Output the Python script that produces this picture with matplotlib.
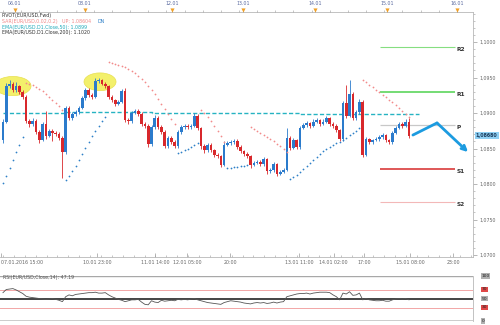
import numpy as np
import matplotlib
matplotlib.use('Agg')
import matplotlib.pyplot as plt
from matplotlib.patches import Ellipse
from matplotlib.ticker import MultipleLocator

# hourly EUR/USD candles (open of each bar = previous close)
first_open = 1.0862
closes = [1.0888, 1.0938, 1.0941, 1.0932, 1.0938, 1.0930, 1.0923, 1.0889, 1.0885, 1.0889,
          1.0873, 1.0862, 1.0885, 1.0868, 1.0875, 1.0872, 1.0870, 1.0865, 1.0845, 1.0907,
          1.0893, 1.0899, 1.0901, 1.0907, 1.0921, 1.0932, 1.0925, 1.0923, 1.0945, 1.0946,
          1.0941, 1.0938, 1.0923, 1.0918, 1.0913, 1.0916, 1.0931, 1.0890, 1.0889, 1.0900,
          1.0903, 1.0899, 1.0885, 1.0882, 1.0856, 1.0880, 1.0893, 1.0880, 1.0873, 1.0854,
          1.0865, 1.0859, 1.0854, 1.0873, 1.0880, 1.0882, 1.0880, 1.0882, 1.0896, 1.0879,
          1.0854, 1.0848, 1.0855, 1.0848, 1.0841, 1.0839, 1.0827, 1.0855, 1.0858, 1.0859,
          1.0861, 1.0852, 1.0846, 1.0842, 1.0839, 1.0827, 1.0830, 1.0831, 1.0828, 1.0835,
          1.0818, 1.0820, 1.0828, 1.0814, 1.0817, 1.0820, 1.0865, 1.0851, 1.0862, 1.0852,
          1.0879, 1.0883, 1.0886, 1.0882, 1.0888, 1.0890, 1.0885, 1.0888, 1.0893, 1.0885,
          1.0882, 1.0876, 1.0863, 1.0914, 1.0896, 1.0927, 1.0893, 1.0901, 1.0916, 1.0841,
          1.0863, 1.0859, 1.0862, 1.0863, 1.0866, 1.0869, 1.0862, 1.0859, 1.0872, 1.0879,
          1.0885, 1.0882, 1.0888, 1.0868]
highs = [1.0891, 1.0942, 1.0946, 1.0944, 1.0943, 1.0940, 1.0932, 1.0926, 1.0892, 1.0893,
         1.0891, 1.0876, 1.0888, 1.0903, 1.0878, 1.0877, 1.0875, 1.0873, 1.0867, 1.0910,
         1.0910, 1.0902, 1.0904, 1.0910, 1.0924, 1.0935, 1.0935, 1.0928, 1.0949, 1.0949,
         1.0948, 1.0944, 1.0940, 1.0926, 1.0920, 1.0919, 1.0934, 1.0935, 1.0893, 1.0903,
         1.0906, 1.0905, 1.0902, 1.0888, 1.0884, 1.0883, 1.0897, 1.0896, 1.0883, 1.0876,
         1.0868, 1.0867, 1.0862, 1.0876, 1.0883, 1.0885, 1.0884, 1.0885, 1.0900, 1.0899,
         1.0881, 1.0857, 1.0858, 1.0858, 1.0850, 1.0844, 1.0841, 1.0860, 1.0861, 1.0862,
         1.0864, 1.0863, 1.0855, 1.0848, 1.0845, 1.0841, 1.0833, 1.0834, 1.0834, 1.0838,
         1.0837, 1.0823, 1.0831, 1.0830, 1.0820, 1.0823, 1.0879, 1.0868, 1.0865, 1.0864,
         1.0882, 1.0886, 1.0889, 1.0888, 1.0891, 1.0893, 1.0892, 1.0891, 1.0896, 1.0895,
         1.0887, 1.0884, 1.0878, 1.0917, 1.0939, 1.0946, 1.0930, 1.0904, 1.0920, 1.0919,
         1.0866, 1.0865, 1.0864, 1.0866, 1.0869, 1.0872, 1.0871, 1.0864, 1.0875, 1.0882,
         1.0888, 1.0888, 1.0891, 1.0893]
lows = [1.0858, 1.0886, 1.0935, 1.0929, 1.0930, 1.0927, 1.0920, 1.0886, 1.0881, 1.0882,
        1.0870, 1.0858, 1.0860, 1.0864, 1.0866, 1.0860, 1.0867, 1.0862, 1.0808, 1.0842,
        1.0890, 1.0890, 1.0896, 1.0898, 1.0905, 1.0919, 1.0922, 1.0920, 1.0921, 1.0942,
        1.0939, 1.0935, 1.0920, 1.0915, 1.0910, 1.0911, 1.0914, 1.0887, 1.0885, 1.0886,
        1.0898, 1.0896, 1.0882, 1.0879, 1.0852, 1.0853, 1.0878, 1.0877, 1.0870, 1.0851,
        1.0851, 1.0856, 1.0851, 1.0851, 1.0871, 1.0878, 1.0877, 1.0878, 1.0880, 1.0876,
        1.0849, 1.0844, 1.0845, 1.0845, 1.0838, 1.0836, 1.0824, 1.0825, 1.0853, 1.0855,
        1.0857, 1.0849, 1.0843, 1.0839, 1.0836, 1.0823, 1.0825, 1.0828, 1.0825, 1.0826,
        1.0814, 1.0815, 1.0817, 1.0811, 1.0812, 1.0815, 1.0818, 1.0848, 1.0849, 1.0849,
        1.0850, 1.0877, 1.0881, 1.0879, 1.0880, 1.0886, 1.0882, 1.0883, 1.0886, 1.0882,
        1.0879, 1.0873, 1.0860, 1.0861, 1.0893, 1.0894, 1.0890, 1.0890, 1.0899, 1.0838,
        1.0839, 1.0856, 1.0857, 1.0860, 1.0861, 1.0864, 1.0859, 1.0856, 1.0857, 1.0870,
        1.0877, 1.0879, 1.0880, 1.0865]

# parabolic SAR, one value per bar; trend flips at these bars (first run is up)
sar = [1.0801, 1.0811, 1.0823, 1.0834, 1.0845, 1.0855, 1.0866,
       1.0942, 1.0941, 1.0939, 1.0937, 1.0934, 1.0931, 1.0927, 1.0923, 1.0918, 1.0914, 1.0910, 1.0904,
       1.0806, 1.0811, 1.0818, 1.0825, 1.0834, 1.0842, 1.0851, 1.0859, 1.0868, 1.0875, 1.0882, 1.0889, 1.0894,
       1.0972, 1.0970, 1.0969, 1.0968, 1.0966, 1.0965, 1.0962, 1.0959, 1.0956, 1.0952, 1.0948,
       1.0944, 1.0938, 1.0932, 1.0927, 1.0920, 1.0913, 1.0906, 1.0899, 1.0892, 1.0885,
       1.0844, 1.0845, 1.0848, 1.0849, 1.0852, 1.0855, 1.0858,
       1.0904, 1.0900, 1.0894, 1.0889, 1.0882, 1.0875, 1.0868, 1.0859,
       1.0823, 1.0823, 1.0824, 1.0824, 1.0825, 1.0825, 1.0827,
       1.0880, 1.0877, 1.0875, 1.0872, 1.0869, 1.0866, 1.0863, 1.0861, 1.0856, 1.0854, 1.0849, 1.0845,
       1.0807, 1.0810, 1.0813, 1.0817, 1.0821, 1.0825, 1.0830, 1.0834, 1.0838, 1.0842, 1.0846,
       1.0849, 1.0852, 1.0855, 1.0858, 1.0859, 1.0862, 1.0865, 1.0869, 1.0872, 1.0875, 1.0879,
       1.0946, 1.0944, 1.0939, 1.0937, 1.0932, 1.0930, 1.0925, 1.0923, 1.0918, 1.0916,
       1.0911, 1.0907, 1.0903, 1.0899, 1.0894]
sar_turns = [0, 7, 19, 32, 53, 60, 68, 75, 87, 109]

# daily EMA(50), stepping once a day
ema_bars = [0, 19, 45, 66, 90, 113, 126]
ema_vals = [1.0900, 1.0901, 1.0900, 1.0900, 1.0899, 1.0898, 1.0898]

# forward pivot levels
pivot_names = ['R2', 'R1', 'P', 'S1', 'S2']
pivot_vals = [1.0993, 1.0930, 1.0883, 1.0821, 1.0775]
pivot_colors = ['#86de80', '#5cd65c', '#c8c8c8', '#d62a2a', '#f3b8b8']
pivot_lw = [0.8, 1.2, 0.9, 1.1, 0.8]

# forecast arrow (bar index, price)
arrow_x = [124.2, 131.5, 140.9]
arrow_y = [1.0869, 1.0886, 1.0845]

# yellow highlighted tops: (bar, price, width in bars, height in price)
tops = [(3.0, 1.0938, 11.0, 0.0027), (29.4, 1.0944, 9.7, 0.0025)]

rsi = [63, 70, 71, 72, 69, 65, 61, 55, 53, 52, 51, 50, 49, 48, 49, 50, 48, 46, 43, 54,
       58, 56, 59, 60, 61, 62, 63, 63, 64, 62, 62, 63, 58, 54, 51, 48, 46, 43, 45, 47,
       47, 48, 42, 37, 36, 45, 42, 41, 46, 44, 45, 46, 45, 48, 47, 48, 47, 49, 50, 47,
       45, 43, 41, 40, 39, 38, 37, 41, 43, 45, 44, 43, 42, 40, 39, 38, 40, 41, 40, 41,
       39, 40, 42, 40, 42, 43, 54, 56, 58, 60, 61, 61, 62, 60, 62, 63, 64, 64, 64, 63,
       58, 54, 47, 62, 60, 65, 57, 58, 62, 47, 50, 47, 46, 45, 45, 46, 44, 44, 47, 49,
       50, 49, 50, 47]

price_ticks = [1.0700, 1.0750, 1.0800, 1.0850, 1.0900, 1.0950, 1.1000]
last_price = 1.0868

time_pos = [-0.6, 28.5, 46.1, 55.8, 68.8, 89.8, 100.2, 109.4, 123.3, 136.4]
time_labels = ['07.01.2016 15:00', '10.01 23:00', '11.01 14:00', '12.01 05:00', '20:00',
               '13.01 11:00', '14.01 02:00', '17:00', '15.01 08:00', '23:00']
event_pos = [3.6, 24.8, 51.2, 72.7, 94.5, 116.4, 137.6]
event_labels = ['06.01', '08.01', '12.01', '13.01', '14.01', '15.01', '16.01']

UP = '#2b7bcc'
DN = '#d8282c'
FS = 3.4

fig = plt.figure(figsize=(5, 3.25), dpi=100)
W, H = 500, 325


def rect(x0, y0, x1, y1):
    return [x0 / W, 1 - y1 / H, (x1 - x0) / W, (y1 - y0) / H]


ax = fig.add_axes(rect(0, 12, 473, 257))
n = len(closes)
xs = np.arange(n)
opens = np.array([first_open] + closes[:-1])
closes_a = np.array(closes)
xlim = (-0.9, 142.4)
ylim = (1.06972, 1.10423)

for (cx, cy, w, h) in tops:
    ax.add_patch(Ellipse((cx, cy), w, h, facecolor='#f3f06b', edgecolor='#e8e050', lw=0.5, zorder=1))

# EMA
ax.step(ema_bars, ema_vals, where='post', color='#26b3c2', lw=1.0, ls=(0, (3, 1.6)), zorder=2)

# candles
up = closes_a >= opens
col = np.where(up, UP, DN)
ax.vlines(xs, lows, highs, colors=col, lw=0.6, zorder=3)
ax.bar(xs, np.abs(closes_a - opens), bottom=np.minimum(opens, closes_a), width=0.8,
       color=col, lw=0, zorder=4)

# SAR dots
bounds = sar_turns + [n]
for k in range(len(sar_turns)):
    a, b = bounds[k], bounds[k + 1]
    c = '#2f80c8' if k % 2 == 0 else '#f28b8b'
    ax.scatter(xs[a:b], sar[a:b], s=1.6, color=c, lw=0, zorder=5)

# pivots
for name, v, c, lw in zip(pivot_names, pivot_vals, pivot_colors, pivot_lw):
    ax.hlines(v, 114.2, 137.0, color=c, lw=lw, zorder=2)
    ax.text(137.3, v - 0.0004, name, fontsize=4.2, color='#333333', va='center', ha='left',
            fontweight='bold')

# forecast arrow
ax.plot(arrow_x[:2], arrow_y[:2], color='#1c9be0', lw=2.0, solid_capstyle='round', zorder=6)
ax.annotate('', xy=(arrow_x[2], arrow_y[2]), xytext=(arrow_x[1], arrow_y[1]),
            arrowprops=dict(arrowstyle='->', color='#1c9be0', lw=2.0,
                            shrinkA=0, shrinkB=0, mutation_scale=8), zorder=6)

ax.set_xlim(*xlim)
ax.set_ylim(*ylim)
ax.spines['left'].set_visible(False)
for s in ['top', 'bottom', 'right']:
    ax.spines[s].set_color('#b8b8b8')
    ax.spines[s].set_linewidth(0.6)

ax.yaxis.tick_right()
ax.set_yticks(price_ticks)
ax.set_yticklabels([('%.4f' % v).replace('.', ',') for v in price_ticks])
ax.yaxis.set_minor_locator(MultipleLocator(0.001))
ax.tick_params(axis='y', which='major', labelsize=FS, colors='#9a9a9a', length=3, width=0.5, pad=1.5)
ax.tick_params(axis='y', which='minor', colors='#9a9a9a', length=1.5, width=0.4)

ax.set_xticks(time_pos)
ax.set_xticklabels(time_labels)
ax.xaxis.set_minor_locator(MultipleLocator(3.3))
ax.tick_params(axis='x', which='major', labelsize=FS, colors='#9a9a9a', length=3, width=0.5,
               pad=2.5, direction='in')
ax.tick_params(axis='x', which='minor', colors='#9a9a9a', length=1.5, width=0.4, direction='in')
ax.get_xticklabels()[0].set_horizontalalignment('left')
for lbl in ax.get_xticklabels() + ax.get_yticklabels():
    lbl.set_color('#666666')

# top event axis
axt = ax.twiny()
axt.set_xlim(*xlim)
axt.set_ylim(*ylim)
axt.set_xticks(event_pos)
axt.set_xticklabels(event_labels)
axt.xaxis.set_minor_locator(MultipleLocator(5.5))
axt.tick_params(axis='x', which='major', labelsize=FS, colors='#9a9a9a', length=2.5, width=0.5,
                pad=1.5, labelcolor='#5a6aa0')
axt.tick_params(axis='x', which='minor', colors='#9a9a9a', length=1.5, width=0.4)
for s in axt.spines.values():
    s.set_visible(False)
axt.scatter(event_pos, [1.01] * len(event_pos), marker='v', s=9, color='#f0a028', lw=0,
            clip_on=False, zorder=7, transform=axt.get_xaxis_transform())

# last price box
ax.text(1.006, last_price, ('%.5f' % last_price).replace('.', ','), transform=ax.get_yaxis_transform(),
        fontsize=FS, color='#1a3a5a', va='center', ha='left', fontweight='bold',
        bbox=dict(boxstyle='square,pad=0.2', facecolor='#8fd0f4', edgecolor='none'))

# indicator legend
fig.text(2 / W, 1 - 16 / H, 'PIVOT(EUR/USD,Fwd)', fontsize=FS, color='#333333', va='center')
fig.text(2 / W, 1 - 21.5 / H, 'SAR(EUR/USD,0.02,0.2)   UP: 1.08604', fontsize=FS, color='#f08a8a',
         va='center')
fig.text(98 / W, 1 - 21.5 / H, 'DN', fontsize=FS, color='#2f80c8', va='center')
fig.text(2 / W, 1 - 27 / H, 'EMA(EUR/USD.D1.Close,50): 1.0899', fontsize=FS, color='#22aabb',
         va='center')
fig.text(2 / W, 1 - 32.5 / H, 'EMA(EUR/USD.D1.Close,200): 1.1020', fontsize=FS, color='#333333',
         va='center')

# RSI panel
ar = fig.add_axes(rect(0, 276, 473, 321))
ar.set_xlim(*xlim)
ar.set_ylim(0, 100)
ar.axhline(100, color='#a8a8a8', lw=1.0)
ar.axhline(70, color='#f2a6a6', lw=0.7)
ar.axhline(50, color='#111111', lw=1.1)
ar.axhline(30, color='#f2a6a6', lw=0.7)
ar.axhline(0, color='#c8c8c8', lw=2.0)
ar.plot(xs, rsi, color='#555555', lw=0.6)
ar.set_xticks([])
ar.set_yticks([])
for s in ar.spines.values():
    s.set_visible(False)
ar.spines['right'].set_visible(True)
ar.spines['right'].set_color('#b8b8b8')
ar.spines['right'].set_linewidth(0.6)
ar.text(0.006, 0.9, 'RSI(EUR/USD,Close,14): 47.19', transform=ar.transAxes, fontsize=FS,
        color='#555555', va='bottom', ha='left')
rsi_marks = [(100, '#b0b0b0'), (70, '#e04848'), (50, '#b0b0b0'), (30, '#e04848'), (0, '#b0b0b0')]
for v, c in rsi_marks:
    ar.text(1.018, v, str(v), transform=ar.get_yaxis_transform(), fontsize=3.2, color='#222222',
            va='center', ha='left', bbox=dict(boxstyle='square,pad=0.12', facecolor=c, edgecolor='none'))

fig.savefig('out.png', dpi=100, facecolor='white')
